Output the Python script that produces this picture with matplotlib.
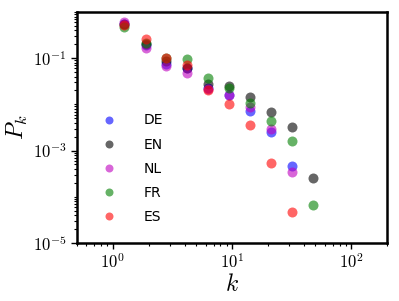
import numpy as np
import matplotlib
matplotlib.use("Agg")
import matplotlib.pyplot as plt
from matplotlib.ticker import FuncFormatter, LogLocator, FixedLocator

plt.rcParams['mathtext.fontset'] = 'cm'

# log-binned degree values
k = [1.25, 1.9, 2.8, 4.2, 6.3, 9.5, 14.2, 21.4, 32.0, 48.0]

# degree distributions per language
p_de = [0.56, 0.19, 0.075, 0.060, 0.023, 0.016, 0.0071, 0.0025, 0.00046]
p_en = [0.55, 0.20, 0.085, 0.061, 0.028, 0.025, 0.0141, 0.0068, 0.0032, 0.00025]
p_nl = [0.60, 0.17, 0.068, 0.048, 0.022, 0.016, 0.0087, 0.0030, 0.00034]
p_fr = [0.47, 0.21, 0.100, 0.095, 0.0375, 0.023, 0.0105, 0.0044, 0.0016, 0.000065]
p_es = [0.52, 0.26, 0.100, 0.071, 0.020, 0.010, 0.0036, 0.00053, 0.000046]

series = [("DE", p_de, "b"), ("EN", p_en, "k"), ("NL", p_nl, "m"),
          ("FR", p_fr, "g"), ("ES", p_es, "r")]

fig = plt.figure(figsize=(3.99, 3.01), dpi=100)
ax = fig.add_axes([0.193, 0.193, 0.777, 0.767])

for name, vals, col in series:
    ax.plot(k[:len(vals)], vals, "o", color=col, alpha=0.6, ms=7.2,
            mec="none", label=name)

ax.set_xscale("log")
ax.set_yscale("log")
ax.set_xlim(0.5, 200)
ax.set_ylim(1e-5, 1)

fmt = FuncFormatter(lambda v, pos: r"$10^{%d}$" % int(round(np.log10(v))))
ax.xaxis.set_major_locator(FixedLocator([1, 10, 100]))
ax.yaxis.set_major_locator(FixedLocator([1e-5, 1e-3, 1e-1]))
ax.xaxis.set_major_formatter(fmt)
ax.yaxis.set_major_formatter(fmt)
ax.xaxis.set_minor_locator(LogLocator(base=10, subs=np.arange(1, 10), numticks=20))
ax.yaxis.set_minor_locator(LogLocator(base=10, subs=np.arange(1, 10), numticks=20))
ax.xaxis.set_minor_formatter(plt.NullFormatter())
ax.yaxis.set_minor_formatter(plt.NullFormatter())
ax.tick_params(which="major", direction="out", length=4, width=1, labelsize=12)
ax.tick_params(which="minor", direction="out", length=2.5, width=0.8)

for s in ax.spines.values():
    s.set_linewidth(1.8)

ax.set_xlabel(r"$k$", fontsize=17, labelpad=0)
ax.set_ylabel(r"$P_k$", fontsize=17, labelpad=2)

ax.legend(loc="lower left", bbox_to_anchor=(0.017, 0.028), frameon=False,
          fontsize=10, markerscale=0.8, handletextpad=1.5, labelspacing=0.73,
          numpoints=1)

fig.savefig("out.png", dpi=100)
